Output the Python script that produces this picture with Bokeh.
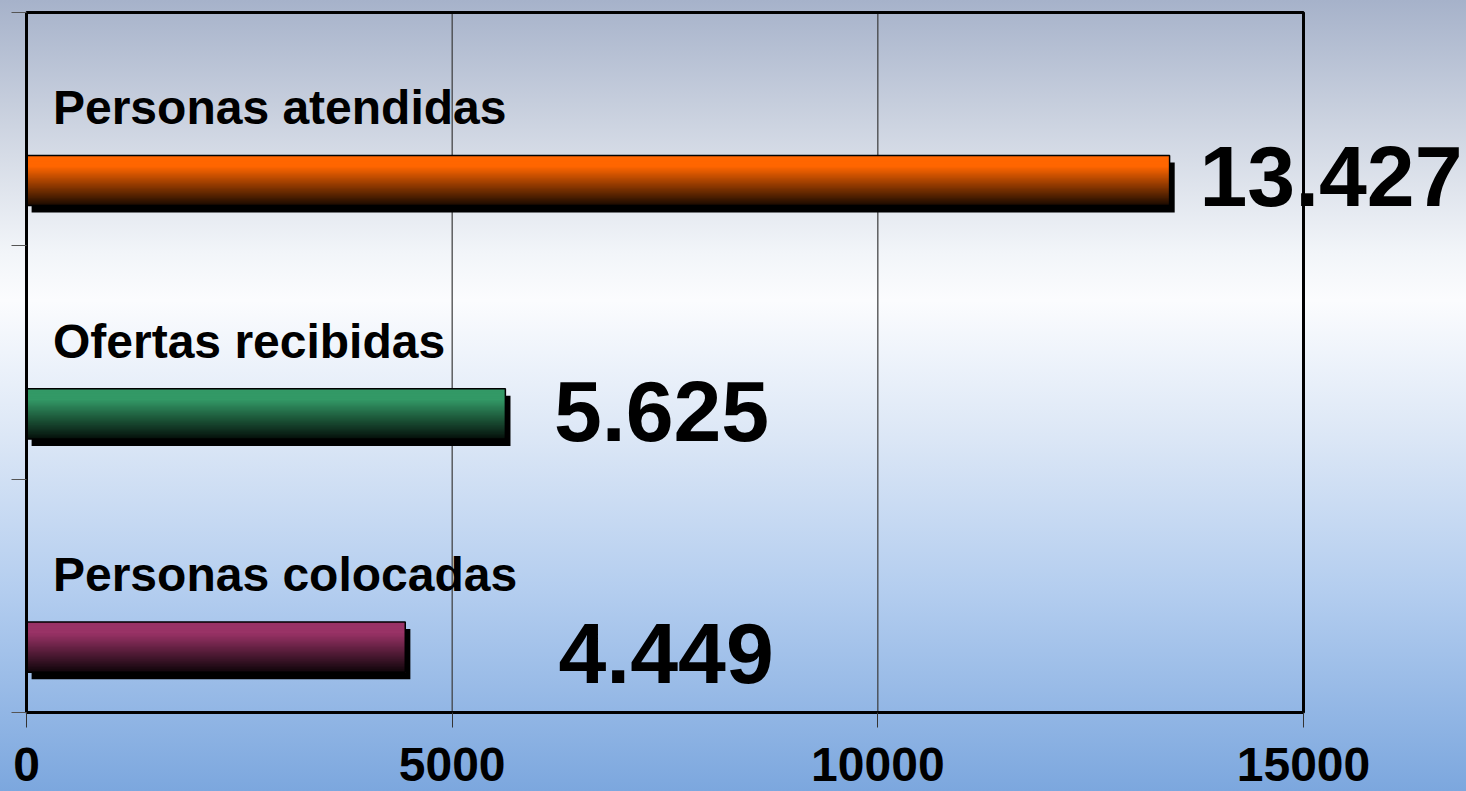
from bokeh.plotting import figure
from bokeh.models import ColumnDataSource, Range1d, FixedTicker, Label, CustomLabelingPolicy
from bokeh.embed import file_html
from bokeh.resources import INLINE

# ---- data ----
categories = ["Personas colocadas", "Ofertas recibidas", "Personas atendidas"]
values = [4449, 5625, 13427]
bar_colors = ["#993366", "#339966", "#FF6600"]
x_ticks = [0, 5000, 10000, 15000]

# ---- layout constants (styling / placement) ----
BAR_POS = 0.28        # bar centre inside its category band
BAR_H = 0.215
N_SLICES = 40
SHADOW_DX = 60        # data units (~5px)
SHADOW_DY = 0.03
CAT_LABEL_X = 311
CAT_LABEL_DY = 0.592
VAL_LABEL_X = [6249, 6196, 13778]
VAL_LABEL_DY = [0.255, 0.29, 0.297]
FONT = "Liberation Sans"

# plot box (the drawn frame) in pixels, and padding of the real frame around it
BOX_W, BOX_H = 1277, 700
PAD = 4
X_MIN, X_MAX = x_ticks[0], x_ticks[-1]
N_CAT = len(categories)
ux = (X_MAX - X_MIN) / BOX_W        # data units per px (x)
uy = N_CAT / BOX_H                  # data units per px (y)
FRAME_W = 1466 - 26 + PAD
FRAME_H = BOX_H + 2 * PAD


def hex_rgb(h):
    h = h.lstrip("#")
    return tuple(int(h[i:i + 2], 16) for i in (0, 2, 4))


# gradient slices for each bar (top: full colour, bottom: near black);
# each slice spans from its own top down to the bar bottom, drawn top-first
sl = dict(top=[], bottom=[], right=[], color=[])
for i, (v, c) in enumerate(zip(values, bar_colors)):
    r, g, b = hex_rgb(c)
    top = i + BAR_POS + BAR_H / 2
    bottom = i + BAR_POS - BAR_H / 2
    dh = BAR_H / N_SLICES
    for k in range(N_SLICES):
        t = (k + 0.5) / N_SLICES
        f = 1.0 - max(0.0, (t - 0.22) / 0.78) * 0.9
        col = "#%02x%02x%02x" % (int(r * f), int(g * f), int(b * f))
        sl["top"].append(top - k * dh)
        sl["bottom"].append(bottom)
        sl["right"].append(v)
        sl["color"].append(col)
slices = ColumnDataSource(sl)

bars = ColumnDataSource(dict(
    y=[i + BAR_POS for i in range(N_CAT)],
    ys=[i + BAR_POS - SHADOW_DY for i in range(N_CAT)],
    right=values,
    left_s=[SHADOW_DX] * N_CAT,
    right_s=[v + SHADOW_DX for v in values],
))

grid_x = x_ticks[1:-1]

p = figure(
    frame_width=FRAME_W, frame_height=FRAME_H,
    x_range=Range1d(X_MIN - PAD * ux, X_MIN + (FRAME_W - PAD) * ux),
    y_range=Range1d(-PAD * uy, N_CAT + PAD * uy),
    output_backend="svg", toolbar_location=None,
    min_border_left=26 - PAD, min_border_top=12 - PAD, min_border_right=0,
    min_border_bottom=791 - 712 - PAD,
)
p.background_fill_color = None
p.border_fill_color = None
p.outline_line_color = None
p.styles = {
    "background": "linear-gradient(to bottom, #a6b2ca 0%, #cdd4e1 16%, #f2f5f9 32%, #fbfcfe 38%, "
                  "#dce7f6 55%, #b3cdef 75%, #7ca7de 100%)"
}

p.xgrid.visible = False
p.ygrid.visible = False

# x axis
p.xaxis.ticker = FixedTicker(ticks=x_ticks)
p.xaxis.axis_line_color = None
p.xaxis.major_tick_out = 15 - PAD
p.xaxis.major_tick_in = PAD
p.xaxis.major_tick_line_color = "#333333"
p.xaxis.minor_tick_line_color = None
p.xaxis.major_label_text_font = FONT
p.xaxis.major_label_text_font_style = "bold"
p.xaxis.major_label_text_font_size = "48px"
p.xaxis.major_label_text_color = "black"
p.xaxis.major_label_standoff = 20

# y axis (ticks only, no labels)
p.yaxis.ticker = FixedTicker(ticks=list(range(N_CAT + 1)))
p.yaxis.axis_line_color = None
p.yaxis.major_tick_out = 15 - PAD
p.yaxis.major_tick_in = PAD
p.yaxis.major_tick_line_color = "#555555"
p.yaxis.minor_tick_line_color = None
p.yaxis.major_label_standoff = 0
p.yaxis.major_label_policy = CustomLabelingPolicy(
    code="for (const i of Array.from(indices)) indices.unset(i); return indices"
)

# vertical grid lines inside the box
p.segment(x0=grid_x, x1=grid_x, y0=[0] * len(grid_x), y1=[N_CAT] * len(grid_x),
          line_color="#3a3a3a", line_width=1.2)

# shadow
p.hbar(y="ys", left="left_s", right="right_s", height=BAR_H, source=bars,
       fill_color="black", line_color=None)
# gradient bars
p.quad(top="top", bottom="bottom", left=0, right="right", source=slices,
       fill_color="color", line_color=None)
# outline
p.hbar(y="y", left=0, right="right", height=BAR_H, source=bars,
       fill_color=None, line_color="black", line_width=1.5)

# the plot box border
p.quad(left=[X_MIN], right=[X_MAX], bottom=[0], top=[N_CAT],
       fill_color=None, line_color="black", line_width=3)

# category labels and value labels
for i, name in enumerate(categories):
    p.add_layout(Label(x=CAT_LABEL_X, y=i + CAT_LABEL_DY, text=name,
                       text_font=FONT, text_font_style="bold", text_font_size="48px",
                       text_color="black", text_baseline="alphabetic", text_align="left"))
for i, v in enumerate(values):
    p.add_layout(Label(x=VAL_LABEL_X[i], y=i + VAL_LABEL_DY[i],
                       text=f"{v:,}".replace(",", "."),
                       text_font=FONT, text_font_style="bold", text_font_size="86px",
                       text_color="black", text_baseline="alphabetic", text_align="left"))

open("out.html", "w").write(file_html(p, INLINE))
